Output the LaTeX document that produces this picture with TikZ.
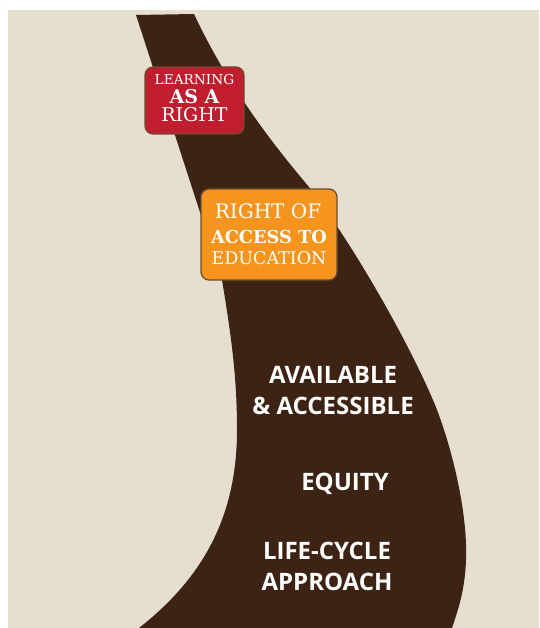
\documentclass[tikz,border=0pt]{standalone}
\usepackage{fontspec}
\newfontfamily\slabfont{DejaVu Serif}
\newfontfamily\roadfont{Open Sans}
\definecolor{paper}{HTML}{E6DFD0}
\definecolor{road}{HTML}{3C2314}
\definecolor{redbox}{HTML}{C01E2E}
\definecolor{orangebox}{HTML}{F7941D}
\definecolor{boxline}{HTML}{6E4B2D}

\begin{document}
\begin{tikzpicture}[x=1pt, y=-1pt,
    box/.style = {draw=boxline, line width=1.2pt, rounded corners=8pt, inner sep=0pt},
    boxtext/.style = {text=white, inner sep=0pt, anchor=base,
                      font=\slabfont\fontsize{#1}{#1}\selectfont},
    boxbold/.style = {text=white, inner sep=0pt, anchor=base,
                      font=\slabfont\bfseries\fontsize{#1}{#1}\selectfont},
    roadtext/.style = {text=white, align=center, inner sep=0pt,
                       font=\roadfont\bfseries\fontsize{24}{31}\selectfont}]
  \useasboundingbox (0,0) rectangle (539,628);
  \fill[paper] (8,10) rectangle (539,628);

  % the road
  \fill[road] (136,15) -- (194,14)
    .. controls (225,80) and (265,135) .. (309,187)
    .. controls (350,240) and (405,335) .. (433,400)
    .. controls (450,440) and (468,510) .. (466,560)
    .. controls (465,590) and (458,610) .. (452,628)
    -- (452,632) -- (139,632) -- (139,628)
    .. controls (200,580) and (237,520) .. (237,430)
    .. controls (237,380) and (232,340) .. (222,280)
    -- cycle;

  \node[box, fill=redbox, minimum width=99pt, minimum height=67pt] (redcard) at (194.5,100.5) {};
  \node[boxtext=13.7] (learning) at (194.5,85) {LEARNING};
  \node[boxbold=19] (asa) at (194.5,103.5) {AS A};
  \node[boxtext=19] (right) at (194.5,122) {RIGHT};

  \node[box, fill=orangebox, minimum width=136pt, minimum height=91pt] (orangecard) at (269,234.5) {};
  \node[boxtext=20] (rightof) at (268,218.5) {RIGHT OF};
  \node[boxbold=17.8] (accessto) at (269,243) {ACCESS TO};
  \node[boxtext=17.5] (education) at (269,264) {EDUCATION};

  \node[roadtext] (available) at (333,390.5) {AVAILABLE\\\& ACCESSIBLE};
  \node[roadtext, anchor=base] (equity) at (345,490) {EQUITY};
  \node[roadtext] (lifecycle) at (327,566.5) {LIFE-CYCLE\\APPROACH};
\end{tikzpicture}
\end{document}
